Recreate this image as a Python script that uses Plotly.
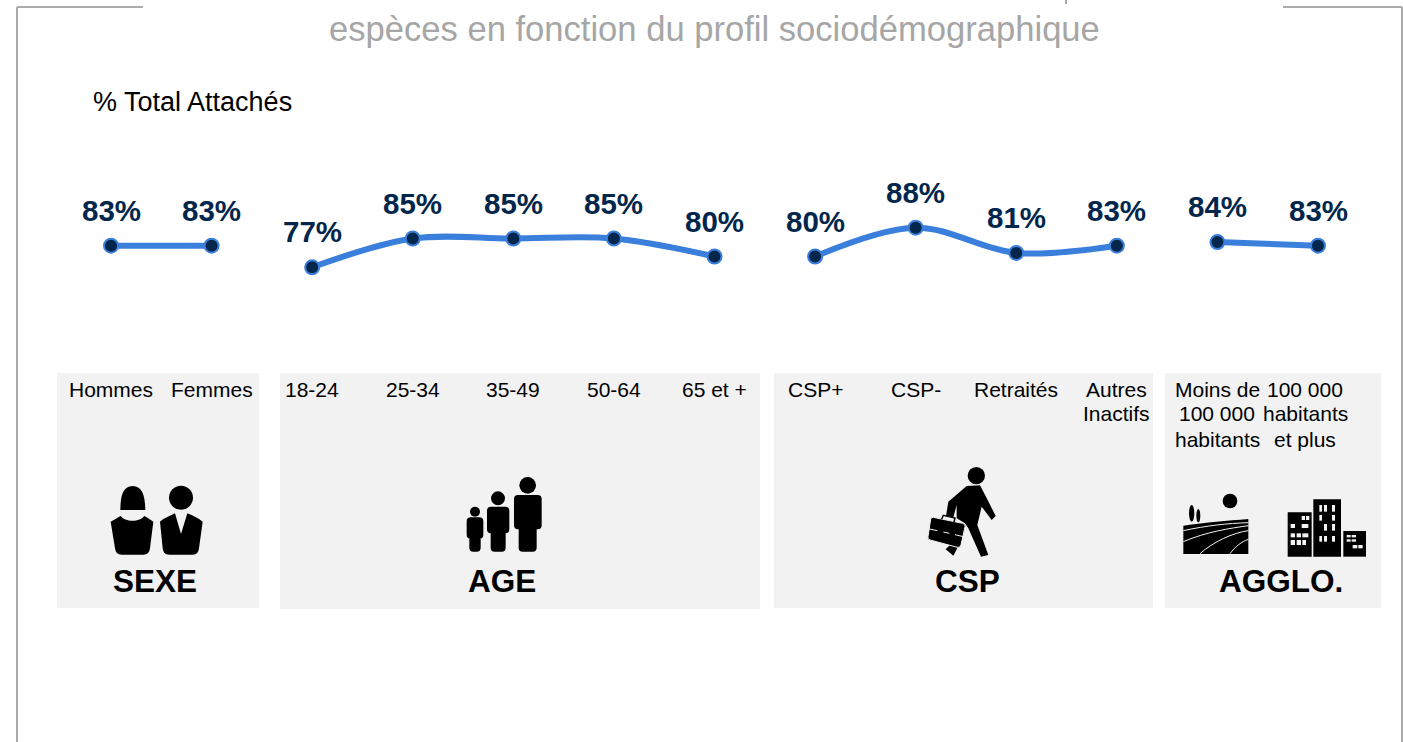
import re
import plotly.graph_objects as go

W, H = 1403, 742

# ---- data ----
group_names = ["SEXE", "AGE", "CSP", "AGGLO."]
categories_sexe = ["Hommes", "Femmes"]
categories_age = ["18-24", "25-34", "35-49", "50-64", "65 et +"]
categories_csp = ["CSP+", "CSP-", "Retraités", "Autres<br>Inactifs"]
categories_agglo = ["Moins de<br>100 000<br>habitants", "100 000<br>habitants<br>et plus"]
values_sexe = [83, 83]
values_age = [77, 85, 85, 85, 80]
values_csp = [80, 88, 81, 83]
values_agglo = [84, 83]
title_text = "espèces en fonction du profil sociodémographique"
subtitle_text = "% Total Attachés"

groups = [
    (categories_sexe, values_sexe),
    (categories_age, values_age),
    (categories_csp, values_csp),
    (categories_agglo, values_agglo),
]

BLUE = "#3A7FDB"
NAVY = "#03264C"
PANEL = "#F2F2F2"
GREY = "#A6A6A6"
FONT = "Liberation Sans"

STEP = (1318 - 111) / 12
Y_SCALE = 3.6
Y_83 = 245.7

fig = go.Figure()
shapes = []
annotations = []


def fx(x):
    return x / W


def fy(y):
    return 1 - y / H


def path(d, ox=0.0, oy=0.0, s=1.0, fill="black", line=None, lw=1):
    """Decoration path given in pixels, converted to paper fractions."""
    def rep(m):
        x = ox + float(m.group(1)) / s
        y = oy + float(m.group(2)) / s
        return f"{fx(x):.5f},{fy(y):.5f}"
    shapes.append(dict(
        type="path", xref="paper", yref="paper",
        path=re.sub(r"(-?\d+\.?\d*),(-?\d+\.?\d*)", rep, d),
        fillcolor=fill, layer="above",
        line=dict(color=line or "rgba(0,0,0,0)", width=lw if line else 0),
    ))


def rect(x0, y0, x1, y1, color, layer="below"):
    shapes.append(dict(type="rect", xref="paper", yref="paper",
                       x0=fx(x0), x1=fx(x1), y0=fy(y1), y1=fy(y0),
                       fillcolor=color, line=dict(width=0), layer=layer))


def circle(cx, cy, r, ox=0.0, oy=0.0, s=1.0, rx=None, color="black"):
    rx = r if rx is None else rx
    cx, cy, r, rx = ox + cx / s, oy + cy / s, r / s, rx / s
    shapes.append(dict(type="circle", xref="paper", yref="paper",
                       x0=fx(cx - rx), x1=fx(cx + rx), y0=fy(cy + r), y1=fy(cy - r),
                       fillcolor=color, line=dict(width=0), layer="above"))


def frame(x0, y0, x1, y1):
    shapes.append(dict(type="line", xref="paper", yref="paper",
                       x0=fx(x0), x1=fx(x1), y0=fy(y0), y1=fy(y1),
                       line=dict(color="#ABABAB", width=2), layer="above"))


def text(x, y, s, size, color="black", bold=False, xref="paper", xshift=0):
    annotations.append(dict(
        x=fx(x) if xref == "paper" else x, y=fy(y), xref=xref, yref="paper",
        text=f"<b>{s}</b>" if bold else s, showarrow=False, xanchor="center",
        yanchor="middle", xshift=xshift, align="center",
        font=dict(family=FONT, size=size, color=color),
    ))


# ---- panels and frame ----
rect(57, 373, 259, 608, PANEL)
rect(280, 373, 760, 609, PANEL)
rect(774, 373, 1153, 608, PANEL)
rect(1165, 373, 1381, 608, PANEL)
frame(143, 7, 17, 7)
frame(17, 7, 17, 742)
frame(1283, 7, 1402, 7)
frame(1402, 7, 1402, 742)
# descender of the title line cut off at the top of the picture
rect(1065, 0, 1067, 4, GREY, layer="above")

# ---- series ----
index = 0
for cats, vals in groups:
    xs = list(range(index, index + len(vals)))
    fig.add_trace(go.Scatter(
        x=xs, y=vals, mode="lines+markers", showlegend=False,
        line=dict(color=BLUE, width=6, shape="spline", smoothing=1),
        marker=dict(color=NAVY, size=14, line=dict(color=BLUE, width=2)),
        cliponaxis=False,
    ))
    for x, v in zip(xs, vals):
        annotations.append(dict(
            x=x, y=v, xref="x", yref="y", text=f"<b>{v}%</b>", showarrow=False,
            yshift=35.5, xanchor="center", yanchor="middle",
            font=dict(family=FONT, size=29.5, color=NAVY),
        ))
    for i, (x, c) in enumerate(zip(xs, cats)):
        shift = -13 if c.startswith("100 000") else 0
        for k, ln in enumerate(c.split("<br>")):
            text(x, 389 + 25 * k, ln, 21, xref="x", xshift=shift)
    index += len(vals)

# ---- texts ----
text(714, 29, title_text, 34.6, color=GREY)
text(192.5, 102, subtitle_text, 27)
for name, cx in zip(group_names, [155, 502.5, 967.5, 1281]):
    text(cx, 581, name, 31.5, bold=True)

# ---- icons: sexe / age (drawn from crop coordinates) ----
OX, OY, S = 50, 460, 3
path("M211,150 C211,105 220,78 248,78 C276,78 285,105 286,150 Z", OX, OY, S)
path("M182,185 C195,178 205,172 212,168 C225,187 270,187 283,168 C290,172 300,178 310,185 "
     "L300,265 C298,278 292,284 280,284 L215,284 C203,284 197,278 195,265 Z", OX, OY, S)
circle(393, 113, 36, OX, OY, S)
path("M330,185 C340,175 360,168 375,160 L393,222 L412,160 C425,165 445,175 458,185 "
     "L447,265 C445,278 440,284 428,284 L358,284 C345,284 340,278 338,265 Z", OX, OY, S)
circle(1275, 155, 15, OX, OY, S)
circle(1344, 115, 21, OX, OY, S)
circle(1433, 76, 25, OX, OY, S)


def person(xl, xr, top, torso, legl, legr, bottom=275, r=12):
    return (f"M{xl+r},{top} L{xr-r},{top} Q{xr},{top} {xr},{top+r} L{xr},{torso-r} Q{xr},{torso} {xr-r},{torso} "
            f"L{legr},{torso} L{legr},{bottom-r} Q{legr},{bottom} {legr-r},{bottom} L{legl+r},{bottom} "
            f"Q{legl},{bottom} {legl},{bottom-r} L{legl},{torso} L{xl+r},{torso} Q{xl},{torso} {xl},{torso-r} "
            f"L{xl},{top+r} Q{xl},{top} {xl+r},{top} Z")


path(person(1250, 1300, 172, 236, 1258, 1292), OX, OY, S)
path(person(1311, 1378, 140, 220, 1322, 1367), OX, OY, S)
path(person(1392, 1475, 105, 208, 1406, 1460), OX, OY, S)

# ---- icons: csp / agglo ----
OX, OY, S = 900, 460, 3
circle(229, 47, 26, OX, OY, S)
path("M200,78 L240,76 L258,110 L287,168 L275,180 L245,140 L232,195 L265,285 L243,290 "
     "L205,205 L195,190 L170,175 L170,135 L160,172 L138,168 L145,125 Z", OX, OY, S)
path("M197,195 L185,240 L160,287 L137,268 L150,255 Z", OX, OY, S)
path("M100,172 L188,190 Q197,192 195,200 L183,255 Q181,264 172,262 L90,240 Q82,238 84,230 L92,178 Q93,171 100,172 Z",
     OX, OY, S, line=PANEL, lw=1)
path("M125,178 L130,166 L165,174 L162,186", OX, OY, S, fill="rgba(0,0,0,0)", line="black", lw=1.5)
path("M88,207 L112,212 M130,216 L148,220 M165,224 L190,230", OX, OY, S, fill="rgba(0,0,0,0)", line=PANEL, lw=1)
circle(990, 123, 22, OX, OY, S)
circle(875, 160, 25, OX, OY, S, rx=8)
circle(895, 167, 20, OX, OY, S, rx=6)
path("M850,197 C920,187 980,182 1045,177 L1045,282 L850,282 Z", OX, OY, S)
for d in ["M850,212 C920,197 980,190 1045,188", "M850,245 C920,215 990,205 1045,197",
          "M900,281 C940,245 1000,218 1045,212", "M990,281 C1005,260 1025,245 1045,238"]:
    path(d, OX, OY, S, fill="rgba(0,0,0,0)", line=PANEL, lw=1)
path("M1163,157 L1235,157 L1235,290 L1163,290 Z", OX, OY, S)
path("M1240,118 L1323,118 L1323,290 L1240,290 Z", OX, OY, S)
path("M1330,213 L1398,213 L1398,290 L1330,290 Z", OX, OY, S)
windows = [
    (1205, 168, 1215, 180), (1218, 168, 1228, 180), (1172, 192, 1185, 204), (1205, 192, 1225, 204),
    (1172, 220, 1185, 232), (1190, 220, 1203, 232), (1207, 220, 1225, 232),
    (1172, 240, 1185, 255), (1190, 240, 1203, 255), (1207, 240, 1218, 255),
    (1258, 135, 1266, 155), (1272, 135, 1281, 155), (1296, 135, 1305, 155),
    (1258, 165, 1266, 182), (1296, 165, 1305, 182),
    (1272, 192, 1281, 212), (1296, 192, 1305, 212),
    (1258, 228, 1266, 245), (1272, 228, 1281, 245), (1296, 228, 1305, 245),
    (1340, 225, 1352, 232), (1355, 225, 1368, 232), (1340, 238, 1352, 245), (1355, 238, 1368, 245),
    (1358, 255, 1372, 265), (1375, 255, 1388, 265),
]
for a, b, c, d in windows:
    rect(OX + a / S, OY + b / S, OX + c / S, OY + d / S, PANEL, layer="above")

fig.update_layout(
    width=W, height=H, margin=dict(l=0, r=0, t=0, b=0),
    paper_bgcolor="white", plot_bgcolor="rgba(0,0,0,0)",
    showlegend=False, shapes=shapes, annotations=annotations,
    xaxis=dict(range=[-111 / STEP, (W - 111) / STEP], visible=False, fixedrange=True),
    yaxis=dict(range=[83 - (H - Y_83) / Y_SCALE, 83 + Y_83 / Y_SCALE], visible=False, fixedrange=True),
)
fig.write_html("out.html", config=dict(displayModeBar=False),
               post_script="document.body.style.margin='0';document.body.style.overflow='hidden';")
